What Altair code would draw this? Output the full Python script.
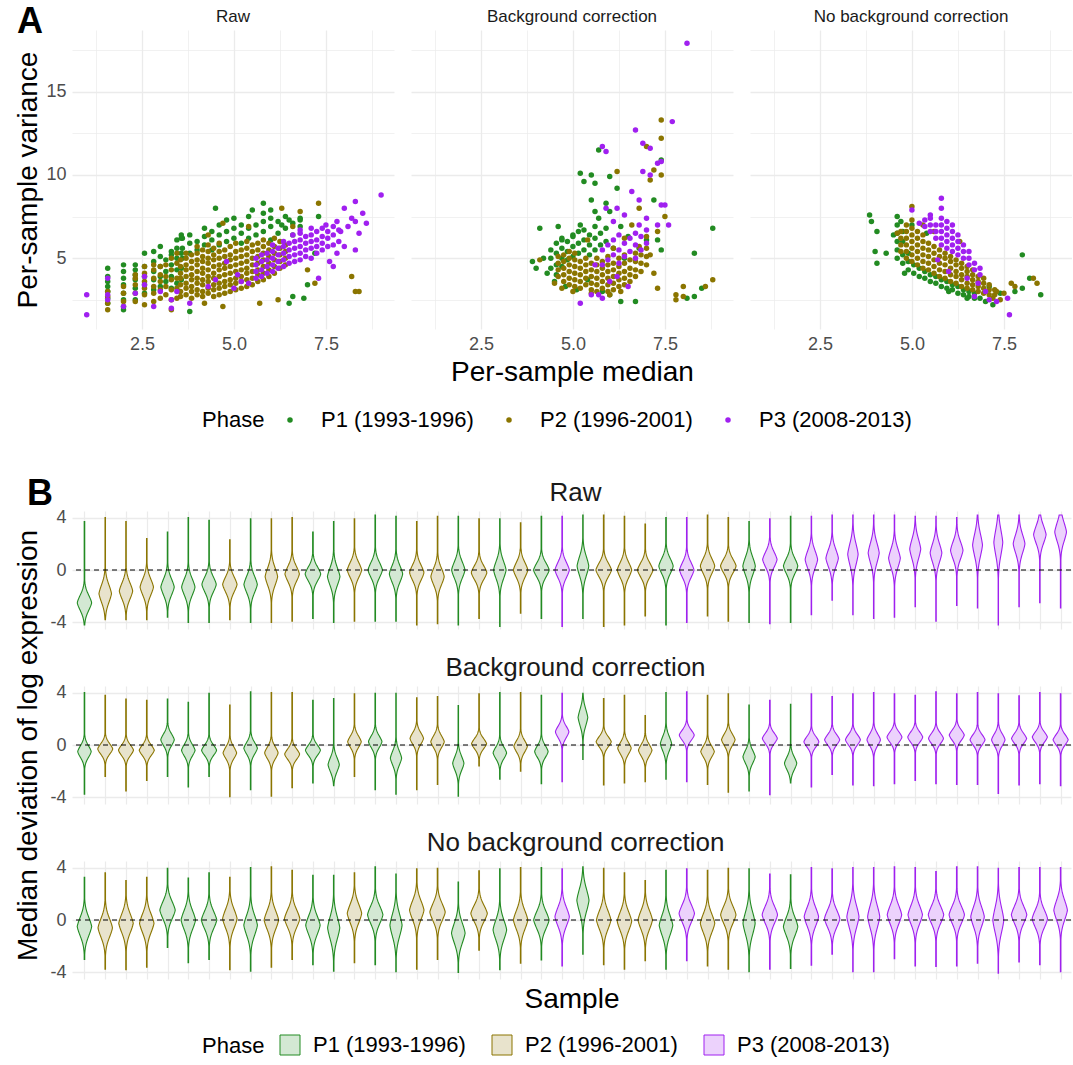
import altair as alt
import numpy as np
import pandas as pd

alt.data_transformers.disable_max_rows()

FONT = "Liberation Sans"
PHASES = ["P1 (1993-1996)", "P2 (1996-2001)", "P3 (2008-2013)"]
DARK = ["#228B22", "#8B7500", "#A020F0"]
LIGHT = ["#D3E8D3", "#E8E3CC", "#ECD2FC"]
METHODS = ["Raw", "Background correction", "No background correction"]

# ---------------- Panel A: per-sample median vs variance ----------------
# scattered points (x = median, y = variance)
raw_p1 = [(1.57,2.3),(1.57,2.6),(1.57,3.0),(1.57,3.3),(1.57,3.6),(1.57,3.9),(1.57,4.4),
          (2.0,1.9),(2.0,2.1),(2.0,2.5),(2.0,2.9),(2.0,3.4),(2.0,3.8),(2.0,4.2),(2.0,4.6),
          (2.32,2.5),(2.32,3.2),(2.32,3.7),(2.32,4.0),(2.32,4.3),(2.32,4.6),
          (2.57,2.9),(2.57,3.4),(2.57,3.9),(2.57,4.5),(2.57,5.3),
          (2.82,3.1),(2.82,3.7),(2.82,4.2),(2.82,4.8),(2.82,5.4),
          (3.0,3.3),(3.0,3.9),(3.0,4.5),(3.0,5.1),(3.0,5.7),
          (3.15,3.6),(3.15,4.2),(3.15,4.9),
          (3.3,3.2),(3.3,3.9),(3.3,4.6),(3.3,5.2),(3.3,5.4),
          (3.45,3.5),(3.45,4.3),(3.45,5.0),(3.45,5.6),(3.45,6.1),
          (3.57,3.7),(3.57,4.4),(3.57,5.3),(3.57,6.2),(3.57,6.4),
          (3.8,1.8),(4.5,8.0),(4.8,7.3),(5.5,7.9),(5.8,8.3),(6.0,7.9),(6.3,7.0),(6.5,7.3),
          (6.5,2.3),(6.6,2.7),(6.8,7.3),(6.9,2.6),(7.0,3.4),(7.2,5.3),(7.3,7.5)]
raw_p2 = [(1.57,1.9),(1.57,2.3),(1.57,2.7),(1.57,3.0),
          (2.0,2.4),(2.0,2.9),(2.0,3.3),
          (2.32,2.4),(2.32,2.9),(2.32,3.4),(2.32,3.8),(2.32,4.0),
          (2.57,2.2),(2.57,2.8),(2.57,3.2),(2.57,3.6),(2.57,4.1),(2.57,4.5),
          (2.82,2.4),(2.82,2.9),(2.82,3.3),(2.82,3.8),(2.82,4.3),(2.82,4.6),
          (3.0,2.6),(3.0,3.1),(3.0,3.6),(3.0,4.0),(3.0,4.5),
          (3.15,2.8),(3.15,3.3),(3.15,3.9),(3.15,4.6),
          (3.3,1.9),(3.3,2.5),(3.3,3.1),(3.3,3.7),(3.3,4.3),(3.3,5.0),
          (3.45,2.6),(3.45,3.2),(3.45,3.8),(3.45,4.7),(3.45,5.3),
          (4.2,2.3),(4.7,2.1),(4.7,7.1),(5.7,2.3),(6.2,2.5),(6.3,8.0),(6.8,7.8),(7.0,4.3),
          (7.2,3.5),(7.3,8.3),(6.6,6.9),(8.2,3.9),(8.3,3.0),(8.4,3.0),(5.4,6.9),(4.3,6.4)]
raw_p3 = [(1.0,2.8),(1.0,1.6),(1.57,3.8),(1.57,2.8),(1.57,2.5),(2.0,2.1),(2.32,2.9),
          (2.57,3.4),(2.57,3.9),(2.82,2.1),(3.0,3.0),(3.3,2.0),(3.3,2.5),(3.45,3.0),
          (3.8,2.3),(4.3,3.3),(4.5,3.7),(4.8,4.8),(5.0,3.2),(5.1,4.0),(5.2,3.6),(5.4,3.5),
          (7.3,3.8),(7.6,4.8),(7.7,4.5),(7.8,7.2),(7.8,5.3),(7.9,6.6),(8.0,8.0),(8.0,5.7),
          (8.1,6.9),(8.2,7.4),(8.3,8.4),(8.3,5.5),(8.4,6.5),(8.5,7.7),(8.6,7.1),(9.0,8.8),
          (8.3,7.2),(7.5,7.0),(7.1,6.8),(6.8,6.7),(6.6,6.4)]
# dense cores: (x, [y values])
raw_p1_core = [(3.6,[5.0,5.6,6.2]),(3.8,[5.3,5.9,6.4]),(4.0,[5.5,6.0]),(4.2,[5.8,6.3,6.8]),
               (4.4,[5.5,6.1,6.6]),(4.6,[5.8,6.4,7.0]),(4.8,[6.0,6.6]),(5.0,[6.2,6.8,7.4]),
               (5.2,[5.9,6.5,7.0]),(5.4,[6.2,6.8,7.5]),(5.6,[6.4,7.0]),(5.8,[6.6,7.2,7.7]),
               (6.0,[6.1,6.9,7.4]),(6.2,[6.5,7.2]),(6.4,[6.8,7.5]),(6.6,[6.4,7.1]),(6.8,[6.9,7.4])]
raw_p2_core = [(3.55,[2.7,3.0,3.4,3.8,4.1,4.5,4.9]),(3.7,[2.8,3.2,3.5,3.9,4.3,4.6,5.0,5.3]),
               (3.85,[2.6,3.0,3.3,3.7,4.0,4.4,4.8,5.2]),(4.0,[2.8,3.1,3.5,3.8,4.2,4.6,4.9,5.3,5.7]),
               (4.15,[2.7,3.0,3.4,3.7,4.1,4.4,4.8,5.1,5.5]),(4.3,[2.9,3.2,3.6,3.9,4.3,4.7,5.0,5.4,5.8]),
               (4.45,[2.7,3.1,3.4,3.8,4.1,4.5,4.9,5.2,5.6]),(4.6,[2.8,3.2,3.5,3.9,4.3,4.6,5.0,5.4,5.9]),
               (4.75,[2.9,3.3,3.6,4.0,4.4,4.7,5.1,5.5]),(4.9,[3.0,3.4,3.7,4.1,4.5,4.9,5.2,5.7]),
               (5.05,[3.1,3.5,3.8,4.2,4.6,5.0,5.4,5.9]),(5.2,[3.2,3.6,3.9,4.3,4.7,5.1,5.5]),
               (5.35,[3.3,3.7,4.1,4.4,4.8,5.2,5.6,6.0]),(5.5,[3.4,3.8,4.2,4.6,5.0,5.4,5.8]),
               (5.65,[3.6,4.0,4.3,4.7,5.1,5.5,5.9]),(5.8,[3.7,4.1,4.5,4.9,5.3,5.7,6.1]),
               (5.95,[3.9,4.3,4.7,5.1,5.5,5.9]),(6.1,[4.1,4.5,4.9,5.3,5.7,6.2]),
               (6.25,[4.4,4.8,5.2,5.6,6.0]),(6.4,[4.6,5.0,5.4,5.8])]
raw_p3_core = [(5.6,[3.8,4.2,4.6,5.0]),(5.75,[3.9,4.3,4.8,5.2]),(5.9,[4.1,4.5,4.9,5.3]),
               (6.05,[4.2,4.6,5.0,5.4,5.8]),(6.2,[4.4,4.8,5.2,5.6]),(6.35,[4.5,4.9,5.3,5.7,6.0]),
               (6.5,[4.7,5.1,5.5,5.9]),(6.65,[4.8,5.2,5.6,6.0]),(6.8,[4.9,5.3,5.7,6.1,6.5]),
               (6.95,[5.1,5.5,5.9,6.3]),(7.1,[5.0,5.6,6.0,6.4]),(7.25,[5.3,5.7,6.1,6.6]),
               (7.4,[5.5,5.9,6.3,6.8]),(7.55,[5.7,6.2,6.6]),(7.7,[5.8,6.4,6.9]),(7.85,[6.0,6.7])]

bg_p1 = [(3.9,4.8),(4.0,4.4),(4.1,6.8),(4.2,5.0),(4.3,4.1),(4.5,3.6),(4.6,6.9),(4.7,6.1),
         (4.8,3.3),(5.0,6.3),(5.1,3.1),(5.2,10.1),(5.2,7.0),(5.3,6.7),(5.3,9.6),(5.4,3.7),
         (5.5,10.0),(5.5,8.5),(5.6,9.5),(5.6,7.8),(5.7,11.5),(5.7,7.4),(5.8,3.0),(5.9,8.3),
         (6.0,9.9),(6.0,7.8),(6.0,2.8),(6.2,9.2),(6.3,6.9),(6.3,2.4),(6.5,6.3),(6.7,2.4),
         (6.8,5.6),(7.0,6.1),(7.2,8.5),(7.3,6.1),(7.4,10.9),(7.4,5.5),(8.1,2.6),(8.3,2.7),
         (8.3,5.3),(8.5,3.2),(8.8,6.8),(6.1,5.6),(6.4,5.0)]
bg_p2 = [(4.1,4.9),(4.5,3.5),(4.7,3.2),(5.0,3.0),(5.5,2.9),(6.0,2.8),(6.2,10.2),(6.3,3.0),
         (6.4,6.2),(6.6,7.0),(6.8,8.0),(6.8,5.7),(7.0,11.7),(7.0,6.3),(7.1,9.7),(7.1,5.2),
         (7.2,10.3),(7.2,4.1),(7.3,3.2),(7.4,13.3),(7.4,12.2),(7.4,10.0),(7.5,7.5),(7.8,2.5),
         (7.8,2.8),(8.0,3.3),(8.0,2.7),(8.6,3.3),(8.8,3.7),(5.4,6.1),(6.1,5.6),(7.3,6.6)]
bg_p3 = [(5.2,2.3),(5.5,2.8),(5.7,2.8),(5.8,2.6),(5.8,11.7),(5.9,11.4),(6.0,3.6),(6.1,7.2),
         (6.4,7.6),(6.5,3.3),(6.7,12.7),(6.8,7.0),(6.9,11.9),(6.9,10.2),(7.0,7.4),(7.1,11.6),
         (7.1,10.0),(7.3,7.0),(7.3,10.7),(7.4,10.8),(7.4,8.2),(7.5,8.2),(7.6,7.0),(7.7,13.2),
         (8.1,17.9),(6.2,8.0),(6.8,8.5),(5.9,8.0),(6.6,9.0),(5.6,4.6),(6.2,3.9)]
bg_p1_core = [(4.4,[4.4,5.0,5.5]),(4.55,[4.0,4.6,5.3,5.9]),(4.7,[4.5,5.0,5.6,6.2]),
              (4.85,[4.9,5.4,6.0]),(5.0,[5.1,5.7,6.4]),(5.15,[5.3,5.9,6.6]),(5.3,[5.5,6.1]),
              (5.45,[5.2,5.8,6.4]),(5.6,[5.5,6.2,6.9]),(5.75,[5.8,6.5]),(5.9,[6.0,6.8])]
bg_p2_core = [(4.6,[3.9,4.3,4.7,5.1]),(4.75,[3.6,4.0,4.4,4.8,5.2]),(4.9,[3.4,3.8,4.2,4.6,5.0,5.4]),
              (5.05,[3.3,3.7,4.1,4.5,4.9,5.3]),(5.2,[3.2,3.6,4.0,4.4,4.8]),(5.35,[3.4,3.8,4.2,4.6,5.0]),
              (5.5,[3.1,3.5,3.9,4.3,4.7]),(5.65,[3.0,3.4,3.8,4.2,4.6,5.0]),(5.8,[3.2,3.6,4.0,4.4,4.8]),
              (5.95,[3.0,3.4,3.8,4.2,4.6,5.1]),(6.1,[3.1,3.5,3.9,4.3,4.7]),(6.25,[3.3,3.7,4.1,4.5,5.0]),
              (6.4,[3.4,3.8,4.2,4.7,5.2]),(6.55,[3.6,4.0,4.4,4.9]),(6.7,[3.9,4.3,4.8,5.3]),
              (6.85,[4.2,4.7,5.2]),(7.0,[4.6,5.1,5.6])]
bg_p3_core = [(5.8,[4.6,5.5]),(5.95,[4.9,5.8]),(6.1,[5.2,6.1]),(6.25,[4.7,5.5,6.4]),(6.4,[5.1,5.9]),
              (6.55,[5.4,6.2]),(6.7,[5.0,5.8,6.5]),(6.85,[5.5,6.3]),(7.0,[5.9,6.7])]

nobg_p1 = [(3.85,7.6),(3.9,7.2),(4.05,6.6),(4.0,5.4),(4.05,4.7),(4.3,5.3),(4.5,6.4),(4.6,7.5),
           (4.7,7.2),(4.8,4.1),(5.0,7.0),(5.4,6.5),(6.0,3.0),(6.5,2.6),(7.0,2.4),(7.1,3.3),
           (7.2,2.2),(7.4,2.9),(7.8,3.0),(8.0,5.2),(8.0,3.2),(8.2,3.8),(8.5,2.8)]
nobg_p2 = [(5.0,8.1),(5.0,7.3),(5.3,7.0),(5.6,6.6),(6.3,6.0),(7.3,3.0),(7.4,2.5),(7.5,2.9),
           (7.7,3.5),(7.8,3.3),(8.3,3.8),(8.4,3.5),(7.2,2.6),(4.6,6.5)]
nobg_p3 = [(5.0,7.9),(5.2,7.1),(5.8,8.6),(5.8,8.0),(5.5,7.6),(6.5,3.8),(6.7,2.7),(6.8,3.5),
           (7.0,3.0),(7.1,2.5),(7.3,2.4),(7.6,2.6),(7.65,1.6),(6.0,4.2),(5.7,4.9)]
nobg_p1_core = [(4.6,[5.0,5.5,6.0,6.5,7.0]),(4.75,[4.7,5.2,6.0,6.6]),(4.9,[4.3,4.8,5.3]),
                (5.05,[4.1,4.6]),(5.2,[3.9,4.4]),(5.35,[3.8,4.2]),(5.5,[3.6,4.0]),(5.65,[3.5,3.9]),
                (5.8,[3.3,3.7]),(5.95,[3.2,3.6]),(6.1,[3.1,3.4]),(6.25,[2.9,3.3]),(6.4,[2.8,3.1]),
                (6.55,[2.7,3.0]),(6.7,[2.6,2.9]),(6.85,[2.6])]
nobg_p2_core = [(4.7,[5.4,5.8,6.2,6.6]),(4.85,[5.0,5.4,5.8,6.2,6.6,7.0]),(5.0,[4.8,5.2,5.6,6.0,6.4,6.8]),
                (5.15,[4.6,5.0,5.4,5.8,6.2,6.6]),(5.3,[4.4,4.8,5.2,5.6,6.0,6.4]),(5.45,[4.3,4.7,5.1,5.5,5.9]),
                (5.6,[4.1,4.5,4.9,5.3,5.7]),(5.75,[3.9,4.3,4.7,5.1,5.5]),(5.9,[3.8,4.2,4.6,5.0,5.3]),
                (6.05,[3.6,4.0,4.4,4.8,5.1]),(6.2,[3.5,3.9,4.2,4.6,4.9]),(6.35,[3.3,3.7,4.0,4.4,4.7]),
                (6.5,[3.2,3.5,3.9,4.2,4.5]),(6.65,[3.1,3.4,3.7,4.0,4.3]),(6.8,[3.0,3.3,3.6,3.9]),
                (6.95,[2.9,3.2,3.5,3.8]),(7.1,[2.8,3.1,3.4]),(7.25,[2.8,3.1])]
nobg_p3_core = [(5.35,[6.9,7.3]),(5.5,[6.6,7.0,7.4]),(5.65,[6.2,6.6,7.0]),(5.8,[5.8,6.2,6.6,7.0,7.4]),
                (5.95,[5.6,6.0,6.4,6.8,7.2]),(6.1,[5.4,5.8,6.2,6.6,7.0]),(6.25,[5.2,5.6,6.0,6.4]),
                (6.4,[5.0,5.4,5.8]),(6.55,[4.6,5.0,5.4]),(6.7,[4.3,4.7]),(6.85,[4.0,4.4])]

# ---------------- Panel B: violins per sample ----------------
SAMPLE_PHASE = [1,2,2,2,1,1,1,2,1,2,2,1,1,2,1,1,2,2,1,2,1,2,1,3,
                1,2,2,2,1,3,2,2,1,3,1,3,3,3,3,3,3,3,3,3,3,3,3,3]

raw_mode = [-2.5,-1.8,-1.6,-1.3,-1.3,-1.3,-1.1,-1.1,-1.1,-0.5,-0.3,-0.3,-0.5,0.0,0.0,-0.3,
            -0.2,-0.5,0.0,-0.2,0.0,0.0,0.0,0.0,0.3,0.0,0.0,0.0,0.3,0.0,0.3,0.3,
            0.3,0.8,0.3,0.8,0.9,1.2,1.3,0.9,1.6,1.3,1.5,1.9,2.1,2.0,2.7,2.9]
raw_lo = [-4.2,-3.8,-3.8,-3.8,-3.6,-4.0,-4.0,-3.8,-4.0,-4.0,-3.9,-3.7,-4.0,-3.9,-3.9,-3.9,
          -4.2,-4.1,-4.2,-3.7,-4.3,-3.3,-3.7,-4.3,-3.7,-4.3,-4.2,-3.5,-4.2,-4.0,-3.5,-3.9,
          -4.0,-4.1,-4.0,-3.4,-2.3,-3.4,-3.7,-3.6,-2.8,-3.9,-2.7,-2.9,-4.2,-2.8,-2.5,-2.9]
raw_hi = [3.7,4.0,3.7,2.4,2.9,4.0,3.8,2.3,3.9,3.9,4.0,2.9,3.7,3.9,4.2,4.1,
          3.7,4.1,4.1,3.9,3.9,3.6,4.1,4.1,4.2,4.2,4.1,3.5,4.0,4.0,4.2,4.0,
          3.7,3.9,4.1,4.1,4.2,4.2,4.2,4.2,4.1,4.1,4.0,4.2,4.2,4.2,4.2,4.2]
raw_sd = [0.65,0.75,0.7,0.7,0.7,0.7,0.65,0.65,0.7,0.75,0.65,0.6,0.75,0.65,0.65,0.7,
          0.65,0.7,0.7,0.6,0.75,0.65,0.6,0.65,0.8,0.6,0.65,0.6,0.65,0.65,0.65,0.6,
          0.75,0.65,0.65,0.75,0.75,0.9,0.85,0.8,0.85,0.8,0.75,0.95,1.05,0.8,0.75,0.8]

bg_mode = [-0.5,-0.3,-0.4,-0.4,0.4,-0.4,-0.4,-0.6,-0.25,-0.6,-0.7,-0.4,-1.5,0.25,0.25,-1.0,
           0.5,0.25,-1.4,0.1,-0.6,-0.1,-0.5,1.0,2.1,0.25,-0.25,-0.4,0.1,0.75,-0.5,0.4,
           -0.9,0.5,-1.4,0.25,0.4,0.4,0.4,0.6,0.6,0.5,0.75,0.4,0.4,0.5,0.6,0.4]
bg_lo = [-3.75,-2.4,-3.5,-2.7,-2.4,-3.2,-2.4,-3.95,-3.4,-3.9,-3.25,-2.9,-3.1,-2.4,-3.4,-3.75,
         -3.4,-3.0,-3.9,-1.6,-2.6,-2.0,-2.95,-2.8,-1.1,-3.05,-2.9,-2.8,-2.6,-2.8,-3.0,-3.6,
         -3.5,-3.8,-2.9,-3.2,-2.25,-3.05,-3.1,-2.95,-2.7,-2.95,-3.0,-3.0,-3.7,-3.05,-2.95,-3.1]
bg_hi = [4.0,3.8,3.5,3.4,3.5,3.25,3.95,3.05,4.05,4.0,4.0,3.4,3.55,3.9,3.95,3.95,
         3.6,3.7,3.0,3.9,4.0,4.0,3.8,3.95,3.95,3.55,3.8,2.25,4.0,4.05,3.8,3.9,
         3.05,3.4,3.1,3.9,3.7,3.9,4.0,3.9,3.8,4.05,3.9,4.0,3.9,3.75,4.0,3.9]
bg_sd = [0.5,0.45,0.45,0.45,0.5,0.5,0.45,0.5,0.5,0.5,0.45,0.45,0.6,0.5,0.5,0.6,
         0.5,0.5,0.6,0.45,0.5,0.5,0.5,0.5,0.7,0.45,0.5,0.5,0.6,0.45,0.5,0.5,
         0.55,0.45,0.55,0.45,0.45,0.45,0.5,0.45,0.45,0.45,0.45,0.45,0.5,0.45,0.45,0.45]

nobg_mode = [-0.5,-0.6,-0.25,-0.25,0.75,0.0,0.0,0.1,-0.4,0.0,0.1,-0.4,-0.6,0.5,0.4,-0.4,
             0.75,0.6,-1.0,0.5,-0.75,0.0,0.0,0.25,1.5,0.0,-0.1,0.0,-0.4,0.5,-0.25,0.4,
             -0.25,0.4,-0.5,0.25,0.1,0.25,0.25,0.4,0.4,0.4,0.4,0.25,0.0,0.4,0.1,0.75]
nobg_lo = [-3.0,-3.75,-3.8,-3.6,-2.1,-3.25,-3.0,-3.8,-3.9,-3.6,-3.0,-3.4,-3.9,-3.25,-3.4,-3.95,
           -3.75,-3.0,-4.0,-2.3,-3.8,-3.3,-3.05,-3.5,-2.6,-3.4,-3.75,-3.1,-3.75,-3.1,-3.5,-3.75,
           -3.95,-3.75,-3.7,-3.45,-2.6,-3.95,-3.95,-2.95,-3.5,-3.55,-3.5,-3.3,-4.05,-3.2,-3.4,-3.95]
nobg_hi = [3.25,3.6,3.0,3.25,3.95,3.2,3.6,3.25,4.0,4.05,3.8,3.4,3.4,3.6,4.05,3.5,
           3.9,3.95,2.9,3.75,3.9,4.0,4.0,3.9,4.05,3.95,3.6,3.0,3.8,3.9,3.8,3.95,
           3.9,3.5,3.45,4.0,3.9,4.0,4.0,4.05,4.0,3.7,4.05,4.05,3.95,4.0,4.0,4.0]
nobg_sd = [0.8,0.8,0.8,0.8,0.75,0.8,0.75,0.8,0.85,0.8,0.75,0.8,0.95,0.8,0.75,0.95,
           0.8,0.75,0.85,0.7,0.85,0.8,0.75,0.8,0.95,0.8,0.8,0.8,0.85,0.75,0.8,0.75,
           0.95,0.75,0.8,0.8,0.75,0.95,0.95,0.8,0.8,0.75,0.75,0.85,1.05,0.75,0.75,0.85]


def grid_w(test):
    return {"condition": {"test": test, "value": 1.3}, "value": 0.7}


def scatter_df(points, cores):
    rows = []
    for ph in [0, 1, 2]:
        pts = list(points[ph])
        for x, ys in cores[ph]:
            pts += [(x, y) for y in ys]
        for (x, y) in pts:
            rows.append({"x": x, "y": y, "phase": PHASES[ph], "ord": len(rows)})
    return pd.DataFrame(rows)


def text_layer(txt, x, y, size, bold=False, color="#1A1A1A"):
    return alt.Chart(pd.DataFrame({"t": [txt]})).mark_text(
        fontSize=size, fontWeight="bold" if bold else "normal", font=FONT, color=color,
        baseline="middle", align="center"
    ).encode(x=alt.value(x), y=alt.value(y), text="t:N")


PA_W, PA_H = 322, 299
PB_W, PB_H = 999, 118

legend_a = alt.Legend(title="Phase", orient="none", legendX=130, legendY=379,
                      direction="horizontal", titleOrient="left",
                      titleFontSize=22, labelFontSize=22, titleFontWeight="normal",
                      symbolType="circle", symbolSize=30, labelOffset=20, columnPadding=24,
                      titlePadding=14, titleColor="#000000", labelColor="#000000")


def scatter_chart(df, title, idx):
    x_axis = alt.Axis(values=[1.25, 2.5, 3.75, 5, 6.25, 7.5, 8.75],
                      labelExpr="(datum.value == 2.5 || datum.value == 5 || datum.value == 7.5) ? format(datum.value, '.1f') : ''",
                      title="Per-sample median" if idx == 1 else None,
                      gridWidth=grid_w("datum.value == 2.5 || datum.value == 5 || datum.value == 7.5"),
                      labelPadding=6, titlePadding=5)
    y_common = dict(values=[2.5, 5, 7.5, 10, 12.5, 15, 17.5],
                    gridWidth=grid_w("datum.value % 5 == 0"))
    if idx == 0:
        y_axis = alt.Axis(labelExpr="datum.value % 5 == 0 ? '' + datum.value : ''",
                          title="Per-sample variance", minExtent=24, maxExtent=24,
                          labelPadding=6, titlePadding=6, **y_common)
    else:
        y_axis = alt.Axis(labels=False, title=None, minExtent=0, maxExtent=0, **y_common)
    pts = alt.Chart(df).mark_circle(size=30, opacity=1).encode(
        x=alt.X("x:Q", scale=alt.Scale(domain=[0.6, 9.35], nice=False, zero=False), axis=x_axis),
        y=alt.Y("y:Q", scale=alt.Scale(domain=[0.75, 18.7], nice=False, zero=False), axis=y_axis),
        color=alt.Color("phase:N", scale=alt.Scale(domain=PHASES, range=DARK), legend=legend_a),
        order=alt.Order("ord:Q"),
    )
    layers = [pts, text_layer(title, PA_W / 2, -13, 17)]
    if idx == 0:
        layers.append(text_layer("A", -42, -8, 36, bold=True, color="#000000"))
    return alt.layer(*layers).properties(width=PA_W, height=PA_H)


panel_a = alt.hconcat(
    scatter_chart(scatter_df([raw_p1, raw_p2, raw_p3], [raw_p1_core, raw_p2_core, raw_p3_core]), METHODS[0], 0),
    scatter_chart(scatter_df([bg_p1, bg_p2, bg_p3], [bg_p1_core, bg_p2_core, bg_p3_core]), METHODS[1], 1),
    scatter_chart(scatter_df([nobg_p1, nobg_p2, nobg_p3], [nobg_p1_core, nobg_p2_core, nobg_p3_core]), METHODS[2], 2),
    spacing=17,
)


def violin_df(mode, lo, hi, sd, sref):
    rows = []
    for i in range(48):
        m, a, b, s = mode[i], lo[i], hi[i], sd[i]
        ys = np.linspace(a, b, 91)
        d = ys - m
        f = 0.72 * np.exp(-0.5 * (d / s) ** 2) + 0.28 * np.exp(-np.abs(d) / (0.9 * s))
        f = np.maximum(f, 0.035)
        peak = min(0.45, 0.35 * sref / s)
        w = peak * f
        for y, ww in zip(ys, w):
            rows.append({"sample": i + 1, "phase": PHASES[SAMPLE_PHASE[i] - 1],
                         "y": round(float(y), 4), "xl": round(float(i + 1 - ww), 4),
                         "xr": round(float(i + 1 + ww), 4)})
    return pd.DataFrame(rows)


legend_b = alt.Legend(title="Phase", orient="none", legendX=130, legendY=523,
                      direction="horizontal", titleOrient="left",
                      titleFontSize=22, labelFontSize=22, titleFontWeight="normal",
                      symbolType="square", symbolSize=400, symbolStrokeWidth=1,
                      labelOffset=12, columnPadding=24, titlePadding=14,
                      titleColor="#000000", labelColor="#000000")


def violin_row(df, title, idx):
    x_axis = alt.Axis(values=list(range(1, 49)), labels=False, ticks=False,
                      title="Sample" if idx == 2 else None, gridWidth=1.2, titlePadding=6)
    y_axis = alt.Axis(values=[-4, -3, -2, -1, 0, 1, 2, 3, 4],
                      labelExpr="datum.value % 2 == 0 ? '' + datum.value : ''",
                      gridWidth=grid_w("datum.value % 2 == 0"),
                      title="Median deviation of log expression" if idx == 1 else None,
                      minExtent=24, maxExtent=24, labelPadding=6, titlePadding=6)
    area = alt.Chart(df).mark_area(orient="horizontal", strokeWidth=1.1, interpolate="linear").encode(
        y=alt.Y("y:Q", scale=alt.Scale(domain=[-4.5, 4.5], nice=False, zero=False), axis=y_axis),
        x=alt.X("xl:Q", stack=None, scale=alt.Scale(domain=[0.4, 48.5], nice=False, zero=False), axis=x_axis),
        x2="xr:Q",
        fill=alt.Fill("phase:N", scale=alt.Scale(domain=PHASES, range=LIGHT), legend=legend_b),
        stroke=alt.Stroke("phase:N", scale=alt.Scale(domain=PHASES, range=DARK), legend=legend_b),
        detail="sample:N",
    )
    hline = alt.Chart(pd.DataFrame({"y": [0.0]})).mark_rule(
        color="#000000", strokeDash=[5, 4], strokeWidth=1.2).encode(y="y:Q")
    layers = [area, hline, text_layer(title, PB_W / 2 + 4, -18, 26)]
    if idx == 0:
        layers.append(text_layer("B", -32, -17, 36, bold=True, color="#000000"))
    return alt.layer(*layers).properties(width=PB_W, height=PB_H)


panel_b = alt.VConcatChart(
    vconcat=[
        violin_row(violin_df(raw_mode, raw_lo, raw_hi, raw_sd, 0.65), METHODS[0], 0),
        violin_row(violin_df(bg_mode, bg_lo, bg_hi, bg_sd, 0.47), METHODS[1], 1),
        violin_row(violin_df(nobg_mode, nobg_lo, nobg_hi, nobg_sd, 0.8), METHODS[2], 2),
    ],
    spacing=57,
    bounds="flush",
)

chart = alt.vconcat(panel_a, panel_b, spacing=45).resolve_scale(
    color="independent", fill="independent", stroke="independent"
).properties(
    padding={"left": 13, "top": 4, "right": 0, "bottom": 0}
).configure(font=FONT).configure_view(stroke=None).configure_axis(
    labelFontSize=18, labelColor="#4D4D4D", titleFontSize=28, titleFontWeight="normal",
    titleColor="#000000", domain=False, ticks=False, gridColor="#EBEBEB", labelFont=FONT, titleFont=FONT,
).configure_legend(labelFont=FONT, titleFont=FONT)

chart.save("out.html", embed_options={"renderer": "svg", "actions": False})
